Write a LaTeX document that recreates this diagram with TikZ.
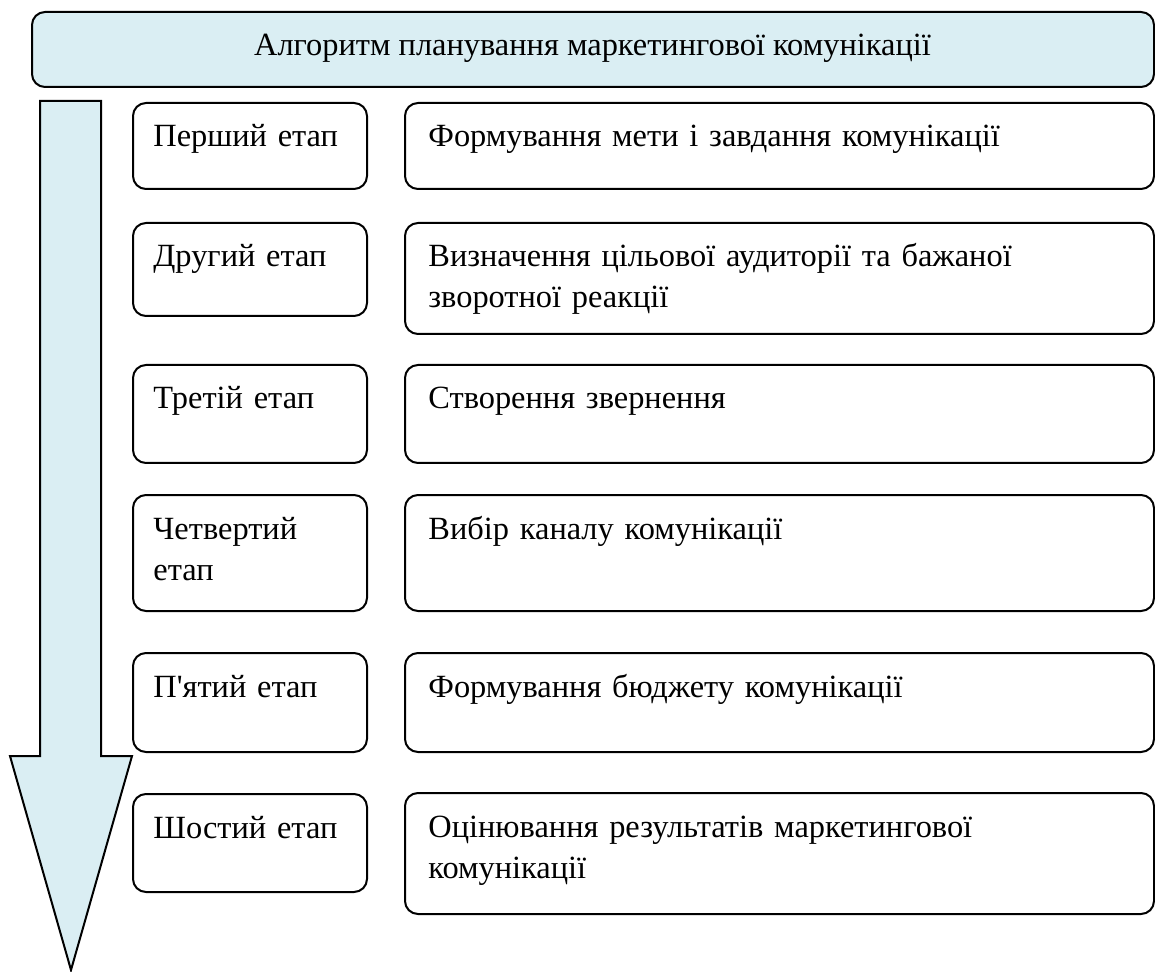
\documentclass[tikz,border=0pt]{standalone}
\usepackage{fontspec}
\setmainfont{Liberation Serif}[Ligatures=TeXOff]
\usetikzlibrary{calc}
\definecolor{blakytnyi}{HTML}{DAEEF3}

\begin{document}
\begin{tikzpicture}[x=0.5pt, y=-0.5pt,
    korobka/.style={draw, line width=1pt, rounded corners=6.5pt, inner sep=0pt, anchor=north west},
    etap/.style={korobka, minimum width=117pt},
    zmist/.style={korobka, minimum width=374.5pt},
    napys/.style={anchor=base west, inner sep=0pt, align=left, text width=330pt,
        font=\fontsize{16.2}{20.5}\selectfont}]
    % параметри
    \def\dx{21}    % відступ тексту в етапі
    \def\zx{24}    % відступ тексту в змісті
    \def\by{45}    % базова лінія першого рядка

    \useasboundingbox (0,0) rectangle (1155,972);

    % заголовок
    \node[korobka, fill=blakytnyi, minimum width=561pt, minimum height=37.5pt] (nazva) at (31,11) {};
    \node[napys, anchor=base, text width=, align=center] (nazva-t) at (592.5,56)
        {Алгоритм планування маркетингової комунікації};

    % стрілка
    \draw[line width=1pt, fill=blakytnyi, line join=miter]
        (40,101) -- (101,101) -- (101,756) -- (132,756) -- (71,970)
        -- (10,756) -- (40,756) -- cycle;

    % етапи (ліва колонка)
    \node[etap, minimum height=43pt]   (e1) at (132,102) {};
    \node[etap, minimum height=46.5pt] (e2) at (132,222) {};
    \node[etap, minimum height=49pt]   (e3) at (132,364) {};
    \node[etap, minimum height=58pt]   (e4) at (132,494) {};
    \node[etap, minimum height=49.5pt] (e5) at (132,652) {};
    \node[etap, minimum height=49pt]   (e6) at (132,793) {};

    % зміст (права колонка)
    \node[zmist, minimum height=43pt]   (z1) at (404,102) {};
    \node[zmist, minimum height=55.5pt] (z2) at (404,222) {};
    \node[zmist, minimum height=49pt]   (z3) at (404,364) {};
    \node[zmist, minimum height=58pt]   (z4) at (404,494) {};
    \node[zmist, minimum height=49.5pt] (z5) at (404,652) {};
    \node[zmist, minimum height=60.5pt] (z6) at (404,792) {};

    % тексти етапів
    \node[napys] (e1-t) at ($(e1.north west)+(\dx,\by)$) {Перший етап};
    \node[napys] (e2-t) at ($(e2.north west)+(\dx,\by)$) {Другий етап};
    \node[napys] (e3-t) at ($(e3.north west)+(\dx,\by)$) {Третій етап};
    \node[napys] (e4-t) at ($(e4.north west)+(\dx,\by)$) {Четвертий\\етап};
    \node[napys] (e5-t) at ($(e5.north west)+(\dx,\by)$) {П'ятий етап};
    \node[napys] (e6-t) at ($(e6.north west)+(\dx,\by)$) {Шостий етап};

    % тексти змісту
    \node[napys] (z1-t) at ($(z1.north west)+(\zx,\by)$) {Формування мети і завдання комунікації};
    \node[napys] (z2-t) at ($(z2.north west)+(\zx,\by)$) {Визначення цільової аудиторії та бажаної\\зворотної реакції};
    \node[napys] (z3-t) at ($(z3.north west)+(\zx,\by)$) {Створення звернення};
    \node[napys] (z4-t) at ($(z4.north west)+(\zx,\by)$) {Вибір каналу комунікації};
    \node[napys] (z5-t) at ($(z5.north west)+(\zx,\by)$) {Формування бюджету комунікації};
    \node[napys] (z6-t) at ($(z6.north west)+(\zx,\by)$) {Оцінювання результатів маркетингової\\комунікації};
\end{tikzpicture}
\end{document}
